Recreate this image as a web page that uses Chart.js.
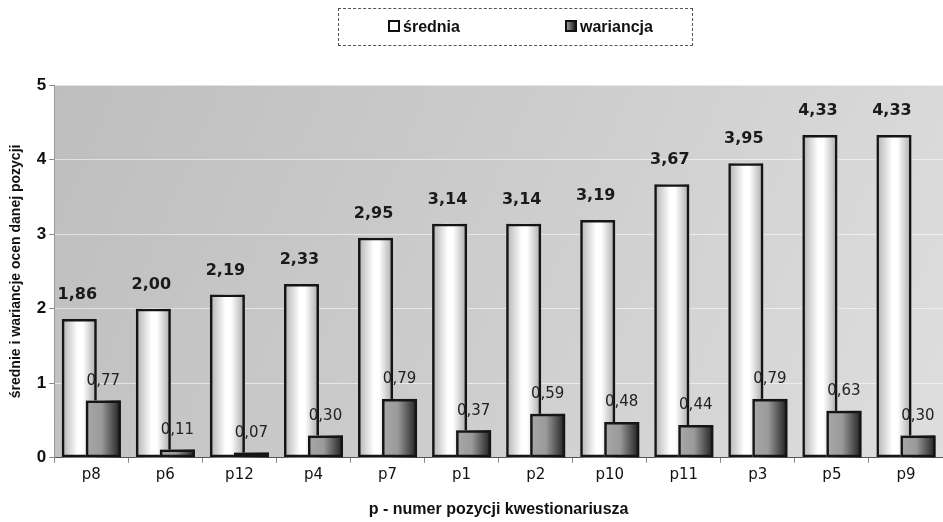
<!DOCTYPE html>
<html>
<head>
<meta charset="utf-8">
<script src="https://cdn.jsdelivr.net/npm/chart.js@4/dist/chart.umd.min.js"></script>
<style>
  html, body { margin: 0; padding: 0; background: #fff; overflow: hidden; }
  #wrap { position: relative; width: 943px; height: 522px; }
  #legenda {
    position: absolute; left: 338px; top: 8px; width: 355px; height: 38px;
    border: 1px dashed #555; box-sizing: border-box;
    font: bold 16px "Liberation Sans", Arial, sans-serif; color: #111;
  }
  .item { position: absolute; top: 10px; line-height: 16px; }
  .kw { display: inline-block; width: 8px; height: 8px; border: 2px solid #111; vertical-align: 0px; margin-right: 3px; }
</style>
</head>
<body>
<div id="wrap">
  <canvas id="wykres" width="943" height="522"></canvas>
  <div id="legenda">
    <span class="item" style="left:49px"><span class="kw" style="background:#fff"></span>średnia</span>
    <span class="item" style="left:226px"><span class="kw" style="background:linear-gradient(90deg,#999,#222)"></span>wariancja</span>
  </div>
</div>
<script>
// dane
const pozycje = ["p8", "p6", "p12", "p4", "p7", "p1", "p2", "p10", "p11", "p3", "p5", "p9"];
const srednia = [1.86, 2.00, 2.19, 2.33, 2.95, 3.14, 3.14, 3.19, 3.67, 3.95, 4.33, 4.33];
const wariancja = [0.77, 0.11, 0.07, 0.30, 0.79, 0.37, 0.59, 0.48, 0.44, 0.79, 0.63, 0.30];
const osY = [0, 1, 2, 3, 4, 5];

const fmt = (v) => v.toFixed(2).replace(".", ",");

// tło obszaru wykresu
const tloPlugin = {
  id: "tlo",
  beforeDraw(chart) {
    const { ctx, chartArea: a } = chart;
    const g = ctx.createLinearGradient(a.left, a.top, a.right, a.bottom);
    g.addColorStop(0, "#bebebe");
    g.addColorStop(0.5, "#cdcdcd");
    g.addColorStop(1, "#dedede");
    ctx.save();
    ctx.fillStyle = g;
    ctx.fillRect(a.left, a.top, a.right - a.left, a.bottom - a.top);
    ctx.restore();
  }
};

function wypelnij(ctx, bar, biały) {
  const l = bar.x - bar.width / 2, r = bar.x + bar.width / 2;
  const g = ctx.createLinearGradient(l, 0, r, 0);
  if (biały) {
    g.addColorStop(0, "#b0b0b0");
    g.addColorStop(0.45, "#ffffff");
    g.addColorStop(0.6, "#ffffff");
    g.addColorStop(1, "#a8a8a8");
  } else {
    g.addColorStop(0, "#a8a8a8");
    g.addColorStop(0.45, "#9a9a9a");
    g.addColorStop(1, "#1e1e1e");
  }
  ctx.fillStyle = g;
  ctx.fillRect(l, bar.y, bar.width, bar.base - bar.y);
}

// cieniowanie słupków, wariancja rysowana na wierzchu
const cieniePlugin = {
  id: "cienie",
  beforeDatasetDraw(chart, args) {
    if (args.index !== 0) return;
    const { ctx } = chart;
    ctx.save();
    args.meta.data.forEach((bar) => wypelnij(ctx, bar, true));
    ctx.restore();
  },
  afterDatasetsDraw(chart) {
    const { ctx } = chart;
    ctx.save();
    chart.getDatasetMeta(1).data.forEach((bar) => {
      wypelnij(ctx, bar, false);
      bar.draw(ctx);
    });
    ctx.textAlign = "center";
    ctx.textBaseline = "bottom";
    chart.getDatasetMeta(0).data.forEach((bar, i) => {
      ctx.font = "bold 16px 'DejaVu Sans', sans-serif";
      ctx.fillStyle = "#1a1a1a";
      ctx.fillText(fmt(srednia[i]), bar.x - 2, bar.y - 16);
    });
    chart.getDatasetMeta(1).data.forEach((bar, i) => {
      ctx.font = "15px 'DejaVu Sans', sans-serif";
      ctx.fillStyle = "#222";
      ctx.fillText(fmt(wariancja[i]), bar.x, bar.y - 12);
    });
    ctx.restore();
  }
};

new Chart(document.getElementById("wykres"), {
  type: "bar",
  data: {
    labels: pozycje,
    datasets: [
      {
        label: "średnia",
        data: srednia,
        backgroundColor: "rgba(0,0,0,0)",
        borderColor: "#151515",
        borderWidth: 2.5,
        borderSkipped: false
      },
      {
        label: "wariancja",
        data: wariancja,
        backgroundColor: "rgba(0,0,0,0)",
        borderColor: "#151515",
        borderWidth: 2.5,
        borderSkipped: false
      }
    ]
  },
  options: {
    responsive: false,
    animation: false,
    categoryPercentage: 0.648,
    barPercentage: 1.46,
    layout: { padding: { top: 85, right: 0, left: 8, bottom: 3 } },
    plugins: {
      legend: { display: false },
      tooltip: { enabled: false }
    },
    scales: {
      x: {
        grid: { display: true, drawOnChartArea: false, offset: true, color: "#888", tickLength: 5 },
        border: { color: "#555", width: 1 },
        ticks: { color: "#111", font: { family: "'DejaVu Sans', sans-serif", size: 15 }, padding: 3 },
        title: {
          display: true,
          text: "p - numer pozycji kwestionariusza",
          color: "#111",
          font: { family: "'Liberation Sans', Arial, sans-serif", size: 16, weight: "bold" },
          padding: { top: 13, bottom: 0 }
        }
      },
      y: {
        min: 0,
        max: 5,
        afterBuildTicks: (axis) => { axis.ticks = osY.map((v) => ({ value: v })); },
        grid: { color: "rgba(255,255,255,0.55)", tickLength: 5, drawTicks: true, tickColor: "#888" },
        border: { color: "#999", width: 1 },
        ticks: { color: "#111", font: { family: "'Liberation Sans', Arial, sans-serif", size: 17, weight: "bold" }, padding: 3 },
        title: {
          display: true,
          text: "średnie i wariancje ocen danej pozycji",
          color: "#111",
          font: { family: "'Liberation Sans', Arial, sans-serif", size: 14, weight: "bold" },
          padding: { top: 0, bottom: 9 }
        }
      }
    }
  },
  plugins: [tloPlugin, cieniePlugin]
});
</script>
</body>
</html>
